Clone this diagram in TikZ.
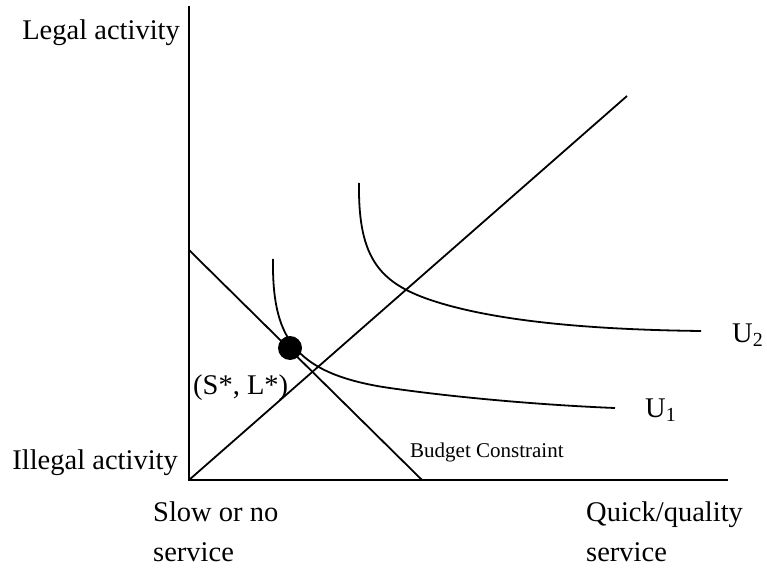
\documentclass[tikz,border=0pt]{standalone}
\usepackage{fontspec}
\setmainfont{Liberation Serif}
\usetikzlibrary{positioning}

\begin{document}
\begin{tikzpicture}[x=1pt, y=-1pt,
   axis/.style={line width=2.2pt},
   curve/.style={line width=1.8pt},
   lbl/.style={inner sep=0pt, font=\fontsize{28.5}{40}\selectfont},
   dot/.style={circle, fill=black, inner sep=0pt, minimum size=24pt}]
\useasboundingbox (0,0) rectangle (767,569);
\coordinate (o) at (189,480);
\coordinate (ytop) at (189,6);
\coordinate (xend) at (728,480);
\coordinate (bctop) at (189,250);
\coordinate (bcend) at (422,480);
\coordinate (rayend) at (627,96);
\coordinate (uone) at (273,259);
\coordinate (uonemid) at (383,387);
\coordinate (uoneend) at (615,408);
\coordinate (utwo) at (359,183);
\coordinate (utwomid) at (440,303);
\coordinate (utwoend) at (701,331);
\draw[axis] (ytop) -- (o) -- (xend);
\draw[curve] (bctop) -- (bcend);
\draw[curve] (o) -- (rayend);
\draw[curve] (uone) .. controls (272,335) and (292,372) .. (uonemid)
   .. controls (450,397) and (540,405) .. (uoneend);
\draw[curve] (utwo) .. controls (358,260) and (380,285) .. (utwomid)
   .. controls (513,325) and (620,330) .. (utwoend);
\node[dot] (opt) at (290,348) {};
\node[lbl, anchor=east] (legal) at (180,33) {Legal activity};
\node[lbl, anchor=east] (illegal) at (178,463) {Illegal activity};
\node[lbl, anchor=west] (sl) at (193,388) {(S*, L*)};
\node[lbl, anchor=north west, align=left] (slow) at (153,502) {Slow or no\\service};
\node[lbl, anchor=north west, align=left] (quick) at (586,502) {Quick/quality\\service};
\node[lbl, font=\fontsize{21}{24}\selectfont, anchor=west] (budget) at (410,452) {Budget Constraint};
\node[lbl, anchor=west] (u1) at (645,410) {U\textsubscript{1}};
\node[lbl, anchor=west] (u2) at (732,335) {U\textsubscript{2}};
\end{tikzpicture}
\end{document}
